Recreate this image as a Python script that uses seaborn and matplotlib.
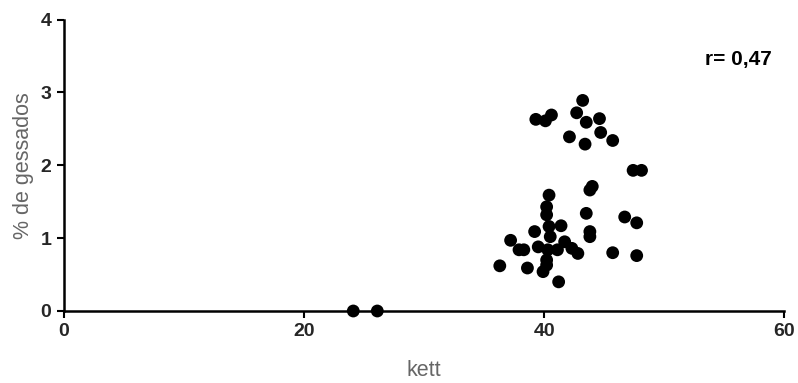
import matplotlib
matplotlib.use("Agg")
import matplotlib.pyplot as plt
import seaborn as sns
import pandas as pd

# kett value vs. % gessados
kett = [39.3, 40.1, 40.6, 43.2, 42.7, 43.5, 44.6, 44.7, 42.1, 43.4, 45.7, 47.4, 48.1,
        44.0, 43.8, 40.4, 40.2, 40.2, 43.5, 46.7, 47.7, 43.8, 43.8, 39.2, 41.4, 40.4,
        40.5, 37.2, 37.9, 38.3, 39.5, 41.7, 41.1, 40.3, 42.3, 42.8, 45.7, 47.7, 36.3,
        38.6, 40.2, 40.2, 39.9, 41.2, 24.1, 26.1]
gessados = [2.63, 2.61, 2.69, 2.89, 2.72, 2.59, 2.64, 2.45, 2.39, 2.29, 2.34, 1.93, 1.93,
            1.71, 1.66, 1.59, 1.43, 1.32, 1.34, 1.29, 1.21, 1.09, 1.02, 1.09, 1.17, 1.16,
            1.02, 0.97, 0.84, 0.84, 0.88, 0.95, 0.84, 0.84, 0.86, 0.79, 0.80, 0.76, 0.62,
            0.59, 0.70, 0.63, 0.54, 0.40, 0.0, 0.0]
x_ticks = [0, 20, 40, 60]
y_ticks = [0, 1, 2, 3, 4]
r_label = "r= 0,47"

sns.set_theme(style="ticks")
plt.rcParams["font.family"] = ["Liberation Sans", "DejaVu Sans"]

df = pd.DataFrame({"kett": kett, "gessados": gessados})

fig = plt.figure(figsize=(7.98, 3.83), dpi=100)
ax = fig.add_axes([0.080, 0.188, 0.903, 0.761])

sns.scatterplot(data=df, x="kett", y="gessados", ax=ax, color="black",
                s=85, edgecolor="none", linewidth=0, clip_on=False, zorder=3)

ax.set_xlim(0, 60)
ax.set_ylim(0, 4)
ax.set_xticks(x_ticks)
ax.set_yticks(y_ticks)
ax.set_xticklabels([str(t) for t in x_ticks], fontsize=14, fontweight="bold")
ax.set_yticklabels([str(t) for t in y_ticks], fontsize=14, fontweight="bold")
ax.tick_params(axis="x", direction="out", length=5, width=1.5, color="black", pad=4)
ax.tick_params(axis="y", direction="out", length=5, width=1.5, color="black", pad=4)

for side in ("top", "right"):
    ax.spines[side].set_visible(False)
for side in ("left", "bottom"):
    ax.spines[side].set_linewidth(1.8)
    ax.spines[side].set_color("black")

ax.set_xlabel("kett", fontsize=15.5, color="#666666", labelpad=14)
ax.set_ylabel("% de gessados", fontsize=15.5, color="#666666", labelpad=5)

ax.text(0.982, 0.862, r_label, transform=ax.transAxes, ha="right", va="center",
        fontsize=15, fontweight="bold", color="black")

fig.savefig("out.png", dpi=100)
